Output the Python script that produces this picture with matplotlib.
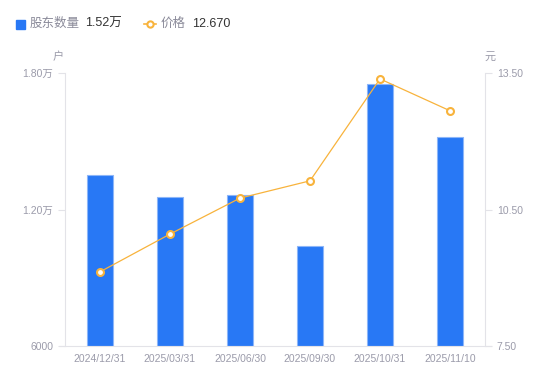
import matplotlib.pyplot as plt
from matplotlib.lines import Line2D
from matplotlib.patches import Rectangle

plt.rcParams['font.family'] = ['Liberation Sans', 'Noto Sans CJK SC', 'DejaVu Sans']

dates = ["2024/12/31", "2025/03/31", "2025/06/30", "2025/09/30", "2025/10/31", "2025/11/10"]
holders = [13500, 12550, 12640, 10400, 17500, 15200]
price = [9.13, 9.96, 10.75, 11.13, 13.37, 12.67]

left_ticks = [6000, 12000, 18000]
left_labels = ["6000", "1.20万", "1.80万"]
right_ticks = [7.5, 10.5, 13.5]
right_labels = ["7.50", "10.50", "13.50"]

blue = "#2878F5"
orange = "#F8B33C"
grey = "#9B9BAA"
axis_grey = "#E3E3E8"

fig = plt.figure(figsize=(5.5, 3.81), dpi=100)
ax = fig.add_axes([65 / 550, 1 - 346 / 381, 420 / 550, 273 / 381])
x = list(range(len(dates)))
ax.bar(x, [h - 6000 for h in holders], bottom=6000, width=0.36, color=blue,
       edgecolor="#8DB6F8", linewidth=0.8, zorder=2)
ax.set_xlim(-0.5, len(dates) - 0.5)
ax.set_ylim(6000, 18000)
ax.set_yticks(left_ticks)
ax.set_yticklabels(left_labels)
ax.set_xticks(x)
ax.set_xticklabels(dates)

ax2 = ax.twinx()
ax2.plot(x, price, color=orange, linewidth=0.9, marker="o", markersize=5,
         markerfacecolor="white", markeredgecolor=orange, markeredgewidth=1.5, zorder=3)
ax2.set_ylim(7.5, 13.5)
ax2.set_yticks(right_ticks)
ax2.set_yticklabels(right_labels)

for a in (ax, ax2):
    for s in a.spines.values():
        s.set_color(axis_grey)
    a.spines["top"].set_visible(False)
    a.tick_params(colors=axis_grey, labelcolor=grey, labelsize=7.5, length=5, width=0.8)
ax.tick_params(axis="x", length=0, pad=6)
ax.spines["right"].set_visible(False)
ax.spines["bottom"].set_visible(False)
ax2.spines["left"].set_visible(False)
ax2.spines["bottom"].set_visible(False)

# bottom line runs under the tick marks on both sides
fig.lines.append(Line2D([60 / 550, 491 / 550], [1 - 346 / 381, 1 - 346 / 381],
                        transform=fig.transFigure, color=axis_grey, linewidth=0.8))

# axis units
fig.text(58 / 550, 1 - 57 / 381, "户", color=grey, fontsize=8, ha="center", va="center")
fig.text(490 / 550, 1 - 57 / 381, "元", color=grey, fontsize=8, ha="center", va="center")

# legend row
fig.patches.append(Rectangle((16 / 550, 1 - 29 / 381), 9 / 550, 9 / 381,
                             transform=fig.transFigure, color=blue, figure=fig))
fig.text(30 / 550, 1 - 24 / 381, "股东数量", color="#8A8A99", fontsize=9, va="center")
fig.text(85 / 550, 1 - 24 / 381, "1.52万", color="#333333", fontsize=9, va="center")
fig.lines.append(Line2D([144 / 550, 156 / 550], [1 - 24 / 381, 1 - 24 / 381],
                        transform=fig.transFigure, color=orange, linewidth=1.2))
fig.lines.append(Line2D([150 / 550], [1 - 24 / 381], transform=fig.transFigure,
                        marker="o", markersize=4.5, markerfacecolor="white",
                        markeredgecolor=orange, markeredgewidth=1.5))
fig.text(161 / 550, 1 - 24 / 381, "价格", color="#8A8A99", fontsize=9, va="center")
fig.text(192 / 550, 1 - 24 / 381, "12.670", color="#333333", fontsize=9, va="center")

fig.savefig("out.png", dpi=100)
